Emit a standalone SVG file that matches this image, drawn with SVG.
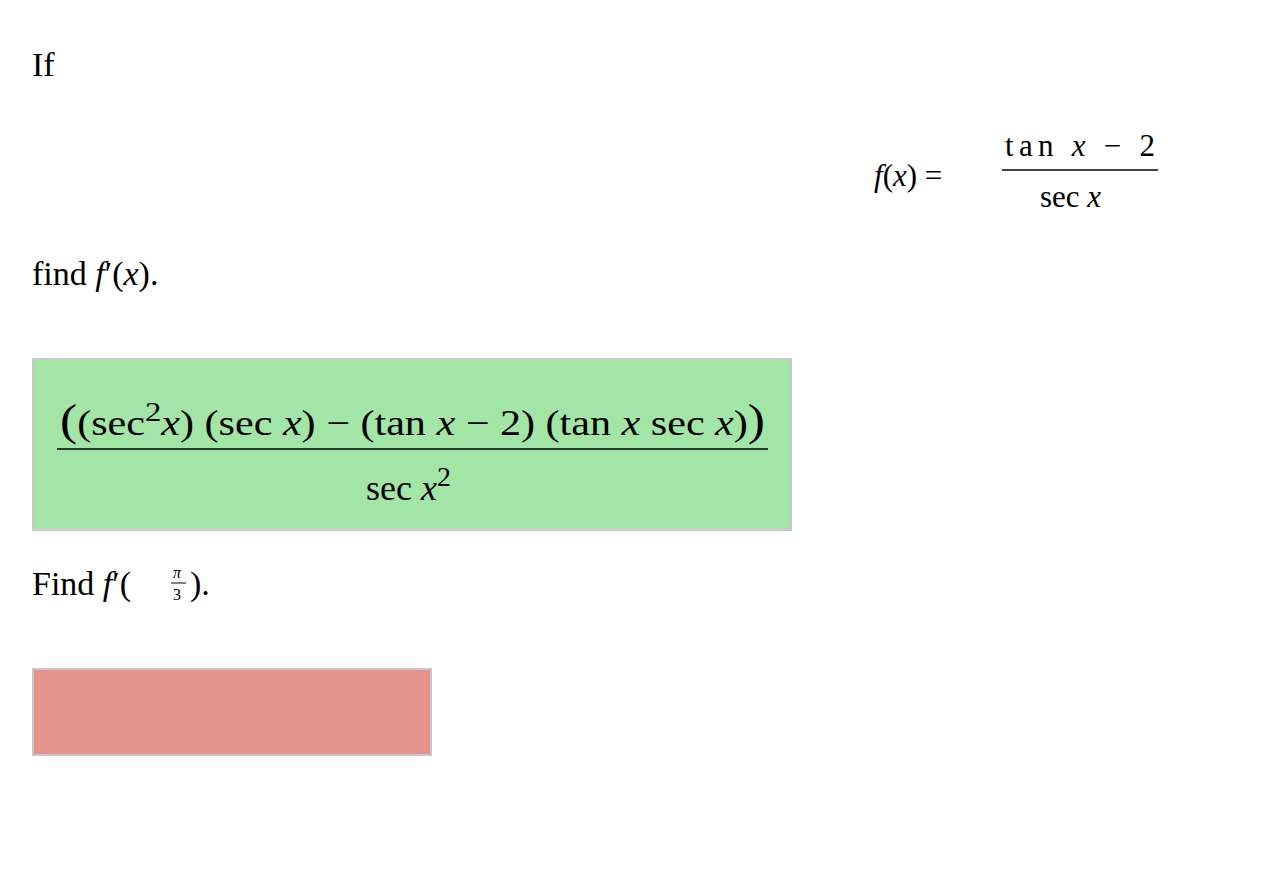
<svg xmlns="http://www.w3.org/2000/svg" width="1286" height="876" viewBox="0 0 1286 876">
<style>
text{font-family:"Liberation Serif","DejaVu Serif",serif;fill:#000}
.t{font-size:34px}
.m{font-size:31px}
.g{font-size:36px}
</style>
<rect width="1286" height="876" fill="#fff"/>
<text class="t" x="32" y="76">If</text>
<text class="m" x="874" y="186"><tspan font-style="italic">f</tspan>(<tspan font-style="italic">x</tspan>) =</text>
<text class="m" x="1005" y="156" textLength="150">tan <tspan font-style="italic">x</tspan> − 2</text>
<line x1="1002" y1="170" x2="1158" y2="170" stroke="#000" stroke-width="1.5"/>
<text class="m" x="1040" y="207">sec <tspan font-style="italic">x</tspan></text>
<text class="t" x="32" y="285">find <tspan font-style="italic">f</tspan>′(<tspan font-style="italic">x</tspan>).</text>
<rect x="33" y="359" width="758" height="171" fill="#a3e4a7" stroke="#c8c8c8" stroke-width="2"/>
<text class="g" x="60" y="435" textLength="705" lengthAdjust="spacingAndGlyphs"><tspan font-size="44">(</tspan>(sec<tspan dy="-14" font-size="28">2</tspan><tspan dy="14" font-style="italic">x</tspan>) (sec <tspan font-style="italic">x</tspan>) − (tan <tspan font-style="italic">x</tspan> − 2) (tan <tspan font-style="italic">x</tspan> sec <tspan font-style="italic">x</tspan>)<tspan font-size="44">)</tspan></text>
<line x1="57" y1="449" x2="768" y2="449" stroke="#000" stroke-width="1.5"/>
<text class="g" x="366" y="500">sec <tspan font-style="italic">x</tspan><tspan dy="-14" font-size="28">2</tspan></text>
<text class="t" x="32" y="595">Find <tspan font-style="italic">f</tspan>′(</text>
<text x="173" y="578" font-size="16" font-style="italic">π</text>
<line x1="171" y1="583" x2="186" y2="583" stroke="#000" stroke-width="1"/>
<text x="173" y="600" font-size="16">3</text>
<text class="t" x="190" y="595">).</text>
<rect x="33" y="669" width="398" height="86" fill="#e4948c" stroke="#c8c8c8" stroke-width="2"/>
</svg>
